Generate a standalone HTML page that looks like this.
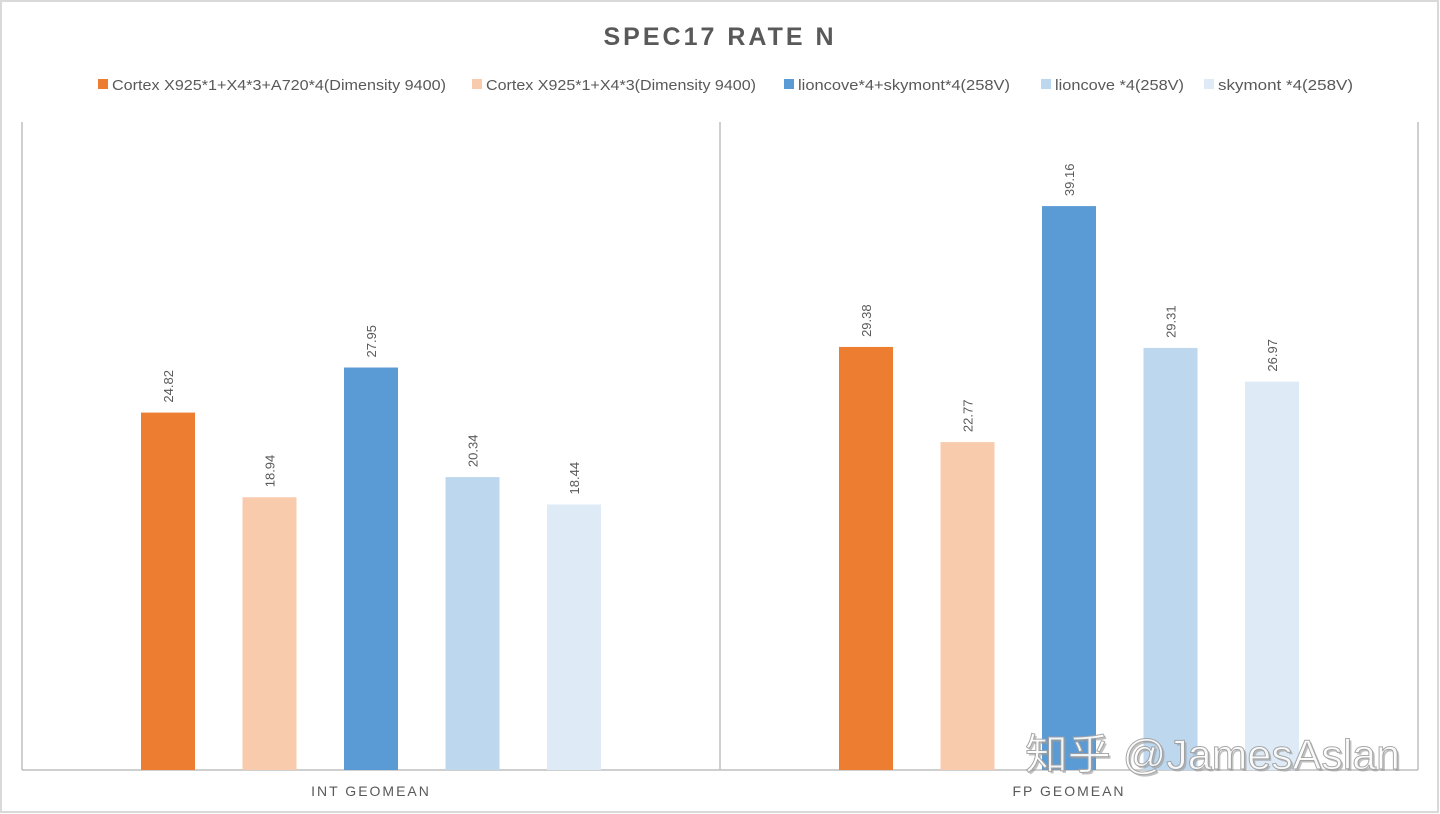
<!DOCTYPE html>
<html><head><meta charset="utf-8"><style>
html,body{margin:0;padding:0;background:#fff;}
svg{display:block;font-family:"Liberation Sans","Noto Sans CJK SC",sans-serif;}
</style></head><body>
<svg id="chart" width="1440" height="814" viewBox="0 0 1440 814">
<rect x="1" y="1" width="1437" height="811" fill="#fff" stroke="#d9d9d9" stroke-width="2"/>
<text x="720" y="45" text-anchor="middle" font-size="25" font-weight="bold" fill="#595959" letter-spacing="3">SPEC17 RATE N</text>
<g id="legend"></g>
<g id="plot"></g>
<text x="1027" y="771" textLength="375" lengthAdjust="spacingAndGlyphs" font-size="42" fill="#999" opacity="0.6">知乎 @JamesAslan</text>
<text x="1025" y="769" textLength="375" lengthAdjust="spacingAndGlyphs" font-size="42" fill="#fff" stroke="#a0a0a0" stroke-width="1" opacity="0.9">知乎 @JamesAslan</text>
</svg>
<script>
const categories = ["INT GEOMEAN", "FP GEOMEAN"];
const seriesNames = ["Cortex X925*1+X4*3+A720*4(Dimensity 9400)", "Cortex X925*1+X4*3(Dimensity 9400)", "lioncove*4+skymont*4(258V)", "lioncove *4(258V)", "skymont *4(258V)"];
const intValues = [24.82, 18.94, 27.95, 20.34, 18.44];
const fpValues = [29.38, 22.77, 39.16, 29.31, 26.97];
const seriesValues = [intValues, fpValues];
const colors = ["#ed7d31", "#f8cbad", "#5b9bd5", "#bdd7ee", "#deebf7"];

const NS = "http://www.w3.org/2000/svg";
const plotLeft = 22, plotRight = 1418, plotTop = 122, baseY = 770;
const pxPerUnit = 14.4;
function yScale(v){ return baseY - v * pxPerUnit; }
const groupW = (plotRight - plotLeft) / categories.length;
const barW = 54, step = 101.5;
function xCenter(ci, si){ return plotLeft + groupW * (ci + 0.5) + (si - 2) * step; }
function mk(tag, attrs, parent){ const e = document.createElementNS(NS, tag); for (const k in attrs) e.setAttribute(k, attrs[k]); parent.appendChild(e); return e; }

const plot = document.getElementById('plot');
let l = mk('line', {x1: plotLeft, x2: plotRight, y1: baseY, y2: baseY, stroke: '#bfbfbf', 'stroke-width': 1.5}, plot);


for (let i = 0; i <= categories.length; i++) {
  const x = plotLeft + groupW * i;
  const t = mk('line', {x1: x, x2: x, y1: plotTop, y2: baseY, stroke: '#bfbfbf', 'stroke-width': 1.5}, plot);
  
  
}
categories.forEach((c, ci) => {
  const t = mk('text', {x: plotLeft + groupW * (ci + 0.5), y: 796, 'text-anchor': 'middle', 'font-size': 14, fill: '#595959', 'letter-spacing': 2}, plot);
  t.textContent = c;
  
  
  seriesValues[ci].forEach((v, si) => {
    const cx = xCenter(ci, si), y = yScale(v);
    const r = mk('rect', {x: cx - barW / 2, y: y, width: barW, height: baseY - y, fill: colors[si]}, plot);
    
    
    const lab = mk('text', {x: 0, y: 0, 'font-size': 13, fill: '#595959', transform: `translate(${cx + 5},${y - 10}) rotate(-90)`}, plot);
    lab.textContent = v.toFixed(2);
    
    
  });
});

const legend = document.getElementById('legend');
const legendX = [98, 472, 784, 1041, 1204];
const legendW = [334, 270, 212, 129, 135];
seriesNames.forEach((n, si) => {
  const g = mk('g', {}, legend);
  
  
  mk('rect', {x: legendX[si], y: 79, width: 10, height: 10, fill: colors[si]}, g);
  const t = mk('text', {x: legendX[si] + 14, y: 90, 'font-size': 15, fill: '#595959', textLength: legendW[si], lengthAdjust: 'spacingAndGlyphs'}, g);
  t.textContent = n;
});
</script>
</body></html>
